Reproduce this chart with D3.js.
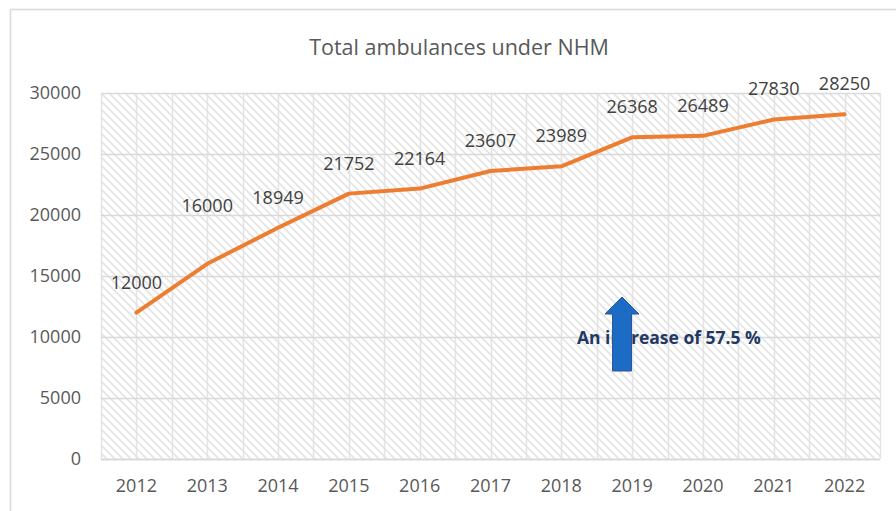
<!DOCTYPE html>
<html>
<head>
<meta charset="utf-8">
<script src="https://cdn.jsdelivr.net/npm/d3@7"></script>
<style>
  html, body { margin: 0; padding: 0; background: #fff; }
  svg { display: block; }
</style>
</head>
<body>
<div id="chart"></div>
<script>
// data
const years = ['2012', '2013', '2014', '2015', '2016', '2017', '2018', '2019', '2020', '2021', '2022'];
const ambulances = [12000, 16000, 18949, 21752, 22164, 23607, 23989, 26368, 26489, 27830, 28250];
const yTicks = [0, 5000, 10000, 15000, 20000, 25000, 30000];
const chartTitle = 'Total ambulances under NHM';
const noteText = 'An increase of 57.5 %';

const W = 896;
const H = 511;
const margin = { top: 93, right: 16, bottom: 52, left: 101 };
const font = '"Open Sans", "Noto Sans", sans-serif';
const gridColor = '#d9d9d9';
const textColor = '#595959';

const svg = d3.select('#chart').append('svg')
  .attr('width', W)
  .attr('height', H)
  .attr('viewBox', `0 0 ${W} ${H}`);

// hatch fill of the plot area
const defs = svg.append('defs');
const pat = defs.append('pattern')
  .attr('id', 'hatch')
  .attr('patternUnits', 'userSpaceOnUse')
  .attr('width', 8)
  .attr('height', 8);
pat.append('rect').attr('width', 8).attr('height', 8).attr('fill', '#fff');
pat.append('path')
  .attr('d', 'M-2,-2 L10,10 M-2,6 L2,10 M6,-2 L10,2')
  .attr('stroke', '#e4e4e4')
  .attr('stroke-width', 1.6)
  .attr('fill', 'none');

// chart border (only left/top visible in the picture)
svg.append('rect')
  .attr('x', 10.5).attr('y', 9.5)
  .attr('width', 920).attr('height', 520)
  .attr('fill', 'none')
  .attr('stroke', '#d9d9d9')
  .attr('stroke-width', 1.5);

const x = d3.scaleBand()
  .domain(years)
  .range([margin.left, W - margin.right])
  .padding(0);

const y = d3.scaleLinear()
  .domain([0, 30000])
  .range([H - margin.bottom, margin.top]);

const cx = d => x(d) + x.bandwidth() / 2;

const plot = svg.append('g');

plot.append('rect')
  .attr('x', margin.left)
  .attr('y', margin.top)
  .attr('width', x.range()[1] - margin.left)
  .attr('height', y(0) - margin.top)
  .attr('fill', 'url(#hatch)');

// vertical gridlines at band edges and band centres
const vLines = [];
years.forEach(yr => {
  vLines.push(x(yr));
  vLines.push(cx(yr));
});
vLines.push(x.range()[1]);

plot.selectAll('.vgrid')
  .data(vLines)
  .enter().append('line')
  .attr('class', 'vgrid')
  .attr('x1', d => Math.round(d) + 0.5)
  .attr('x2', d => Math.round(d) + 0.5)
  .attr('y1', margin.top)
  .attr('y2', y(0))
  .style('stroke', '#e3e3e3')
  .style('stroke-width', 1.5);

plot.selectAll('.hgrid')
  .data(yTicks)
  .enter().append('line')
  .attr('class', 'hgrid')
  .attr('x1', margin.left)
  .attr('x2', x.range()[1])
  .attr('y1', d => Math.round(y(d)) + 0.5)
  .attr('y2', d => Math.round(y(d)) + 0.5)
  .style('stroke', gridColor)
  .style('stroke-width', d => (d === 0 ? 2 : 1.5));

// axes, drawn with d3 axis generators then restyled
const yAxis = d3.axisLeft(y)
  .tickValues(yTicks)
  .tickSize(0)
  .tickPadding(20)
  .tickFormat(d3.format('d'));

const yAx = svg.append('g')
  .attr('transform', `translate(${margin.left},0)`)
  .call(yAxis);
yAx.select('.domain').remove();
yAx.selectAll('text')
  .style('font-family', font)
  .style('font-size', '18px')
  .style('fill', textColor);

const xAxis = d3.axisBottom(x)
  .tickSize(0)
  .tickPadding(20);

const xAx = svg.append('g')
  .attr('transform', `translate(0,${y(0)})`)
  .call(xAxis);
xAx.select('.domain').remove();
xAx.selectAll('text')
  .style('font-family', font)
  .style('font-size', '18px')
  .style('fill', textColor);

// the line
const line = d3.line()
  .x((d, i) => cx(years[i]))
  .y(d => y(d));

plot.append('path')
  .datum(ambulances)
  .attr('d', line)
  .style('fill', 'none')
  .style('stroke', '#ed7d31')
  .style('stroke-width', 4)
  .style('stroke-linecap', 'round')
  .style('stroke-linejoin', 'round');

// data labels; the 2013 label was dragged up in the original
const labelNudge = { 2013: -28 };
svg.selectAll('.dlabel')
  .data(ambulances)
  .enter().append('text')
  .attr('class', 'dlabel')
  .attr('x', (d, i) => cx(years[i]))
  .attr('y', (d, i) => y(d) - 24 + (labelNudge[years[i]] || 0))
  .attr('text-anchor', 'middle')
  .style('font-family', font)
  .style('font-size', '18px')
  .style('fill', '#404040')
  .text(d => d);

// title
svg.append('text')
  .attr('x', 459)
  .attr('y', 55)
  .attr('text-anchor', 'middle')
  .style('font-family', font)
  .style('font-size', '21.5px')
  .style('fill', textColor)
  .text(chartTitle);

// annotation text and arrow (arrow drawn over the text)
svg.append('text')
  .attr('x', 577)
  .attr('y', 344)
  .style('font-family', font)
  .style('font-size', '17.5px')
  .style('font-weight', 'bold')
  .style('fill', '#1f3864')
  .text(noteText);

const ax = 622;
const arrowTop = 297;
const arrowBase = 314;
const arrowBottom = 371;
const headHalf = 17;
const shaftHalf = 9.5;
svg.append('path')
  .attr('d', `M${ax},${arrowTop} L${ax + headHalf},${arrowBase} L${ax + shaftHalf},${arrowBase}
    L${ax + shaftHalf},${arrowBottom} L${ax - shaftHalf},${arrowBottom} L${ax - shaftHalf},${arrowBase}
    L${ax - headHalf},${arrowBase} Z`)
  .style('fill', '#1c6bc4')
  .style('stroke', '#2f5597')
  .style('stroke-width', 1);
</script>
</body>
</html>
